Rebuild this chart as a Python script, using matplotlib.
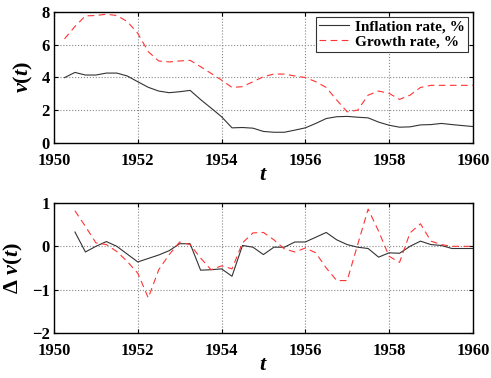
import numpy as np
import matplotlib
matplotlib.use('Agg')
import matplotlib.pyplot as plt

plt.rcParams['font.family'] = 'Liberation Serif'
plt.rcParams['font.weight'] = 'bold'
plt.rcParams['mathtext.fontset'] = 'custom'
plt.rcParams['mathtext.rm'] = 'Liberation Serif:bold'
plt.rcParams['mathtext.it'] = 'Liberation Serif:italic:bold'
plt.rcParams['mathtext.bf'] = 'Liberation Serif:bold'

# quarterly time axis
t_top = np.arange(1950.25, 1960.01, 0.25)
t_diff = np.arange(1950.5, 1960.01, 0.25)

inflation = [3.99, 4.31, 4.15, 4.15, 4.27, 4.27, 4.09, 3.74, 3.40, 3.17,
             3.07, 3.13, 3.21, 2.65, 2.13, 1.60, 0.92, 0.94, 0.90, 0.70,
             0.65, 0.65, 0.78, 0.92, 1.19, 1.49, 1.60, 1.62, 1.57, 1.53,
             1.27, 1.08, 0.96, 0.98, 1.10, 1.12, 1.19, 1.12, 1.06, 1.00]
growth = [6.36, 7.12, 7.77, 7.79, 7.87, 7.79, 7.42, 6.70, 5.58, 5.01,
          4.95, 5.01, 5.05, 4.66, 4.25, 3.84, 3.39, 3.44, 3.74, 4.05,
          4.21, 4.21, 4.09, 4.00, 3.74, 3.39, 2.62, 1.90, 2.00, 2.92,
          3.17, 3.03, 2.66, 2.92, 3.39, 3.52, 3.52, 3.52, 3.52, 3.52]

d_inflation = [0.33, -0.13, 0.0, 0.11, 0.0, -0.18, -0.36, -0.28, -0.20, -0.10,
               0.06, 0.06, -0.55, -0.54, -0.52, -0.69, 0.02, -0.02, -0.19, -0.02,
               -0.02, 0.10, 0.10, 0.21, 0.32, 0.15, 0.04, -0.02, -0.05, -0.25,
               -0.15, -0.16, 0.0, 0.12, 0.04, 0.02, -0.05, -0.05, -0.05]
d_growth = [0.82, 0.46, 0.08, 0.04, -0.12, -0.35, -0.62, -1.19, -0.54, -0.19,
            0.10, 0.04, -0.27, -0.54, -0.45, -0.52, 0.08, 0.31, 0.32, 0.15,
            -0.06, -0.13, -0.04, -0.15, -0.50, -0.79, -0.79, 0.04, 0.86, 0.35,
            -0.23, -0.37, 0.31, 0.52, 0.12, 0.04, 0.0, 0.0, 0.0]

fig = plt.figure(figsize=(4.91, 3.78), dpi=100)
ax1 = fig.add_axes([0.110, 0.622, 0.853, 0.346])
ax2 = fig.add_axes([0.110, 0.119, 0.853, 0.344])

def style(ax):
    ax.set_xlim(1950, 1960)
    ax.set_xticks(range(1950, 1961, 2))
    ax.grid(True, linestyle=':', color='#888888', linewidth=0.8)
    ax.tick_params(direction='in', top=True, right=True, labelsize=12, length=3)
    ax.tick_params(axis='x', pad=7)
    ax.tick_params(axis='y', pad=3)
    for lab in ax.get_xticklabels() + ax.get_yticklabels():
        lab.set_fontweight('heavy')
    for s in ax.spines.values():
        s.set_linewidth(1.0)
    ax.set_xlabel('$t$', fontsize=16, labelpad=-2)

ax1.plot(t_top, inflation, color='#333333', lw=0.8, label='Inflation rate, %')
ax1.plot(t_top, growth, color='#ff3333', lw=0.8, ls=(0, (6, 4)), label='Growth rate, %')
ax1.set_ylim(0, 8)
ax1.set_yticks([0, 2, 4, 6, 8])
style(ax1)
ax1.set_ylabel('$v(t)$', fontsize=16, labelpad=5)
leg = ax1.legend(loc='upper right', prop={'weight': 'heavy', 'size': 11},
                 fancybox=False, framealpha=1, edgecolor='#333333', borderpad=0.2,
                 labelspacing=0.1, handlelength=2.0, handletextpad=0.4,
                 borderaxespad=0.3)
leg.get_frame().set_linewidth(0.8)

ax2.plot(t_diff, d_inflation, color='#333333', lw=0.8)
ax2.plot(t_diff, d_growth, color='#ff3333', lw=0.8, ls=(0, (6, 4)))
ax2.set_ylim(-2, 1)
ax2.set_yticks([-2, -1, 0, 1])
style(ax2)
ax2.set_ylabel(r'$\Delta\ v(t)$', fontsize=16, labelpad=5)

fig.savefig('out.png', dpi=100)
